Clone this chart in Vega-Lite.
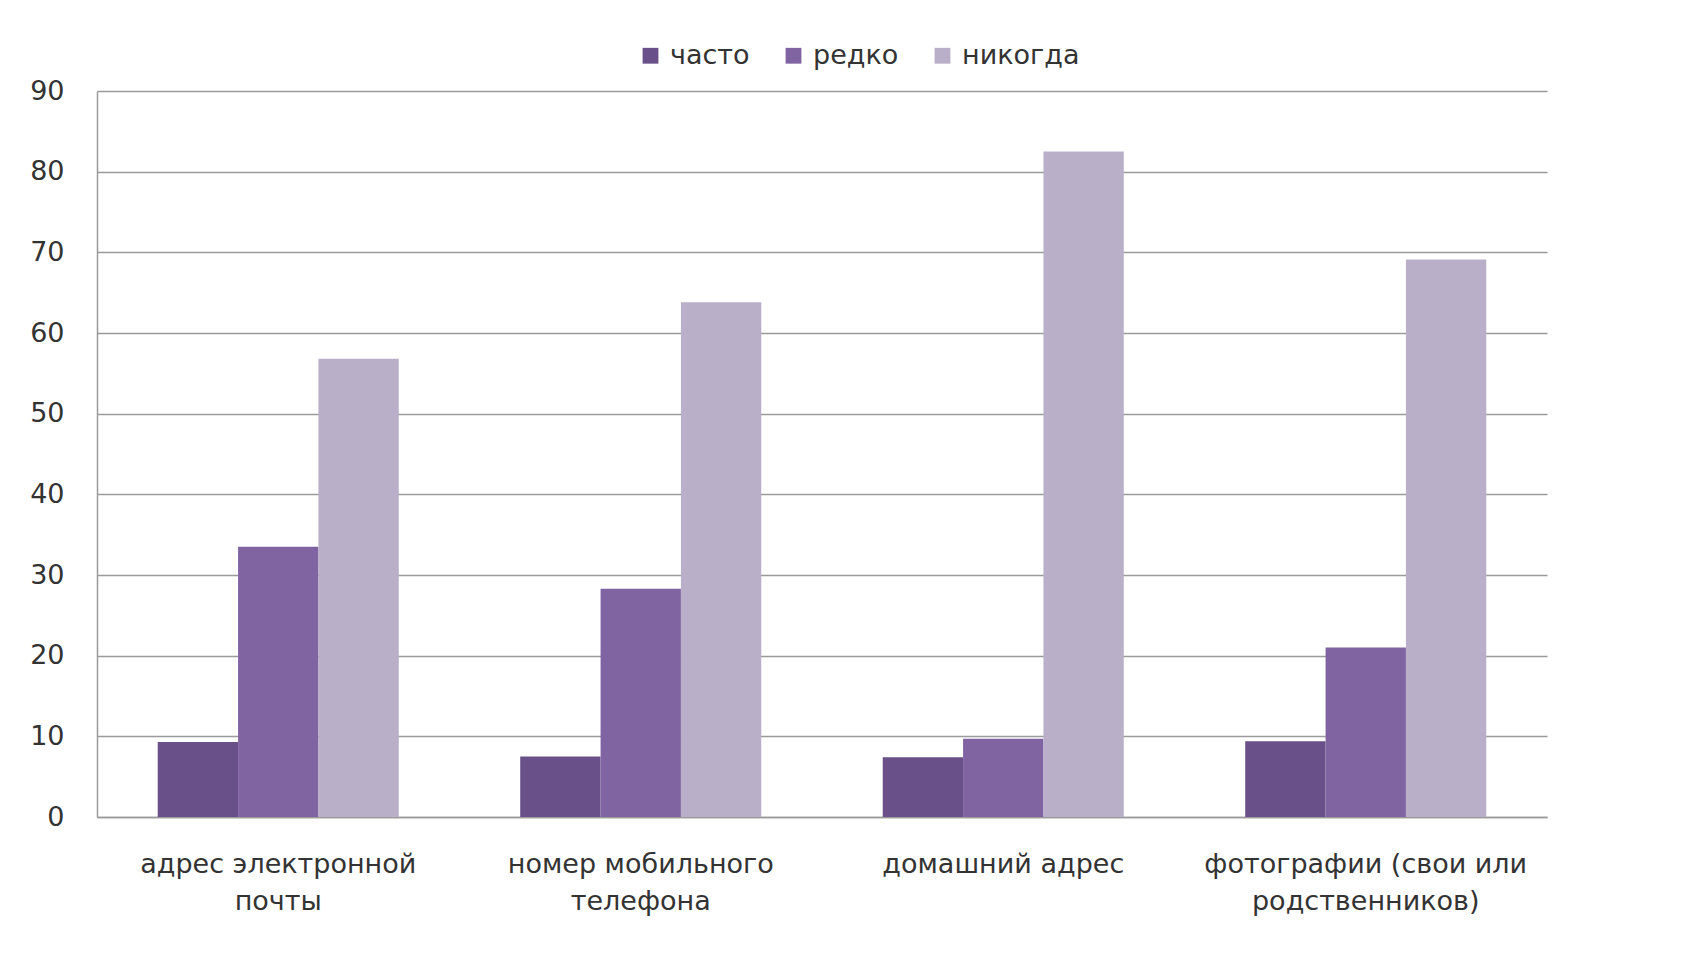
{
  "$schema": "https://vega.github.io/schema/vega-lite/v6.json",
  "width": 1450,
  "height": 726,
  "autosize": {"type": "none"},
  "padding": {"left": 97, "top": 91, "right": 137, "bottom": 137},
  "background": "white",
  "data": {
    "values": [
      {"cat": "адрес электронной почты", "series": "часто", "value": 9.3},
      {"cat": "адрес электронной почты", "series": "редко", "value": 33.5},
      {"cat": "адрес электронной почты", "series": "никогда", "value": 56.8},
      {"cat": "номер мобильного телефона", "series": "часто", "value": 7.5},
      {"cat": "номер мобильного телефона", "series": "редко", "value": 28.3},
      {"cat": "номер мобильного телефона", "series": "никогда", "value": 63.8},
      {"cat": "домашний адрес", "series": "часто", "value": 7.4},
      {"cat": "домашний адрес", "series": "редко", "value": 9.7},
      {"cat": "домашний адрес", "series": "никогда", "value": 82.5},
      {"cat": "фотографии (свои или родственников)", "series": "часто", "value": 9.4},
      {"cat": "фотографии (свои или родственников)", "series": "редко", "value": 21.0},
      {"cat": "фотографии (свои или родственников)", "series": "никогда", "value": 69.1}
    ]
  },
  "mark": {"type": "bar"},
  "encoding": {
    "x": {
      "field": "cat",
      "type": "nominal",
      "sort": null,
      "scale": {"paddingInner": 0.335, "paddingOuter": 0.1675},
      "axis": {
        "title": null,
        "labelAngle": 0,
        "labelFont": "DejaVu Sans",
        "labelFontSize": 27,
        "labelColor": "#333333",
        "labelPadding": 34,
        "labelLineHeight": 37,
        "labelBaseline": "top",
        "labelLimit": 0,
        "ticks": false,
        "domainColor": "#9a9a9a",
        "domainWidth": 1.5,
        "labelExpr": "datum.value == 'адрес электронной почты' ? ['адрес электронной', 'почты'] : datum.value == 'номер мобильного телефона' ? ['номер мобильного', 'телефона'] : datum.value == 'фотографии (свои или родственников)' ? ['фотографии (свои или', 'родственников)'] : datum.value"
      }
    },
    "xOffset": {
      "field": "series",
      "type": "nominal",
      "sort": ["часто", "редко", "никогда"],
      "scale": {"paddingInner": 0, "paddingOuter": 0}
    },
    "y": {
      "field": "value",
      "type": "quantitative",
      "scale": {"domain": [0, 90], "nice": false},
      "axis": {
        "title": null,
        "values": [0, 10, 20, 30, 40, 50, 60, 70, 80, 90],
        "labelFont": "DejaVu Sans",
        "labelFontSize": 27,
        "labelColor": "#333333",
        "labelPadding": 33,
        "ticks": false,
        "grid": true,
        "gridColor": "#9a9a9a",
        "gridWidth": 1.5,
        "domainColor": "#9a9a9a",
        "domainWidth": 1.5
      }
    },
    "color": {
      "field": "series",
      "type": "nominal",
      "sort": ["часто", "редко", "никогда"],
      "scale": {
        "domain": ["часто", "редко", "никогда"],
        "range": ["#6a5088", "#8064a2", "#b9afc9"]
      },
      "legend": {
        "title": null,
        "orient": "none",
        "direction": "horizontal",
        "legendX": 540,
        "legendY": -49,
        "symbolType": "square",
        "symbolSize": 250,
        "symbolStrokeWidth": 0,
        "labelFont": "DejaVu Sans",
        "labelFontSize": 27,
        "labelColor": "#333333",
        "labelOffset": 6,
        "columnPadding": 30
      }
    }
  },
  "config": {
    "view": {"stroke": null}
  }
}
